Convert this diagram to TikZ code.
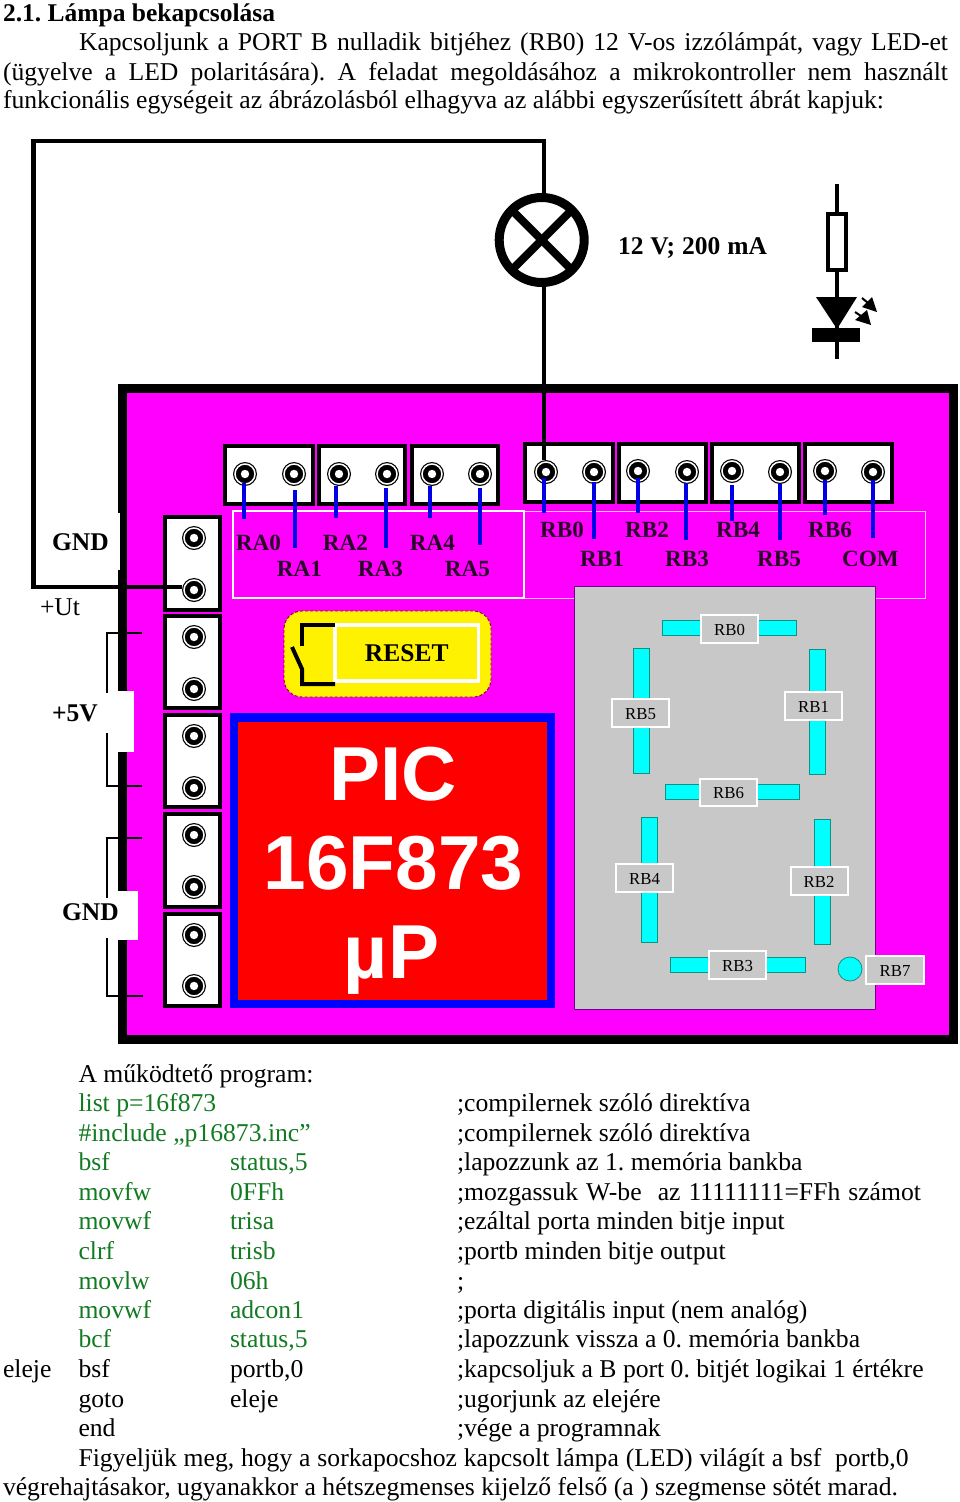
\documentclass[tikz,border=0pt]{standalone}
\usepackage{fontspec}
\setmainfont{Liberation Serif}
\newfontfamily\pichead{Liberation Sans}
\frenchspacing
\definecolor{boardmag}{HTML}{FF00FF}
\definecolor{codegreen}{HTML}{127A22}
\definecolor{pindark}{HTML}{2A002A}
\definecolor{segcyan}{HTML}{00FFFF}
\definecolor{segedge}{HTML}{109080}
\definecolor{panelgrey}{HTML}{C8C8C8}
\definecolor{resetedge}{HTML}{800040}
\definecolor{stubblue}{HTML}{0000E6}
\definecolor{pureblue}{HTML}{0000FF}
\definecolor{purered}{HTML}{FF0000}
\newcommand{\rbox}[7]{\node[#6,minimum width={(#4-(#2))*1pt},minimum height={(#5-(#3))*1pt}] (#1) at ({(#2+#4)/2},{(#3+#5)/2}) {#7};}
\newcommand{\txt}[5][]{\node[plaintext,#1] (#2) at (#3,#4) {#5};}
\newcommand{\ctr}[5][]{\node[plaintext,anchor=base,#1] (#2) at (#3,#4) {#5};}
\newcommand{\pin}[3]{\node[pinhole] (#1) at (#2,#3) {};}
\newcommand{\stub}[4]{\coordinate (#1-end) at (#2,#4); \draw[stubline] ([yshift=-#3pt]#1.center -| #1-end) -- (#1-end);}
\tikzset{
  plaintext/.style={anchor=base west,inner sep=0pt,outer sep=0pt,font=\fontsize{25.65}{29}\selectfont},
  code/.style={text=codegreen},
  boldtext/.style={font=\fontsize{25.5}{29}\selectfont\bfseries},
  pintext/.style={font=\fontsize{23.2}{27}\selectfont\bfseries,text=pindark},
  pichtext/.style={font=\fontsize{76.5}{80}\selectfont\pichead\bfseries,text=white},
  boxbase/.style={rectangle,inner sep=0pt,outer sep=0pt},
  board/.style={boxbase,draw=black,fill=boardmag,line width=9pt},
  block/.style={boxbase,draw=black,fill=white,line width=4pt},
  pale/.style={boxbase,draw=white,line width=2pt},
  paler/.style={boxbase,draw=white!75!boardmag,line width=1pt},
  panel/.style={boxbase,draw=purple!60!blue,fill=panelgrey,line width=.8pt},
  segbar/.style={boxbase,draw=segedge,fill=segcyan,line width=.8pt},
  seglabel/.style={boxbase,draw=white,fill=panelgrey,line width=2pt,text height=13pt,font=\fontsize{16.8}{19}\selectfont},
  notch/.style={boxbase,fill=white},
  resetbody/.style={boxbase,rounded corners=18pt,fill=yellow,draw=resetedge,densely dashed,line width=.9pt},
  resetlabel/.style={boxbase,draw=white,line width=3.5pt,font=\fontsize{25.5}{29}\selectfont\bfseries},
  chip/.style={boxbase,draw=pureblue,fill=purered,line width=8.5pt},
  pinhole/.style={circle,inner sep=0pt,outer sep=0pt,minimum size=24pt,fill=black,
    path picture={\draw[white,line width=1.5pt] (path picture bounding box.center) circle (10pt);
                  \fill[white] (path picture bounding box.center) circle (4.2pt);}},
  wire/.style={draw=black,line width=4.8pt,line join=miter},
  stubline/.style={draw=stubblue,line width=4.5pt},
  bracket/.style={draw=black,line width=1.5pt},
  lampring/.style={circle,draw=black,fill=white,line width=9pt,minimum size=85pt,inner sep=0pt,outer sep=0pt},
  symline/.style={draw=black,line width=4.5pt},
  sw/.style={draw=black,line width=4pt}
}
\begin{document}
\begin{tikzpicture}[x=1pt,y=-1pt]
\useasboundingbox (0,0) rectangle (960,1502);
% header text
\txt[boldtext]{t1}{3}{21}{2.1. Lámpa bekapcsolása}
\txt{t2}{79}{50}{\makebox[869pt][s]{Kapcsoljunk a PORT B nulladik bitjéhez (RB0) 12 V-os izzólámpát, vagy LED-et}}
\txt{t3}{3}{80}{\makebox[945pt][s]{(ügyelve a LED polaritására). A feladat megoldásához a mikrokontroller nem használt}}
\txt{t4}{3}{108}{\makebox[881pt][s]{funkcionális egységeit az ábrázolásból elhagyva az alábbi egyszerűsített ábrát kapjuk:}}
% board
\rbox{boardbody}{122.5}{388.5}{953.5}{1039.5}{board}{}
% notches and side labels
\rbox{n1}{50}{513}{119.5}{570}{notch}{}
\rbox{n2}{40}{691}{134}{752}{notch}{}
\rbox{n3}{50}{891}{138}{940}{notch}{}
\txt[boldtext]{lgnd1}{52}{550}{GND}
\txt{lut}{40}{615}{+Ut}
\txt[boldtext]{l5v}{52}{721}{+5V}
\txt[boldtext]{lgnd2}{62}{920}{GND}
% brackets
\coordinate (b1a) at (142,633); \coordinate (b1b) at (107,633); \coordinate (b1c) at (107,693);
\coordinate (b2a) at (107,733); \coordinate (b2b) at (107,786); \coordinate (b2c) at (142,786);
\coordinate (b3a) at (142,838); \coordinate (b3b) at (107,838); \coordinate (b3c) at (107,898);
\coordinate (b4a) at (107,938); \coordinate (b4b) at (107,996); \coordinate (b4c) at (143,996);
\draw[bracket] (b1a) -- (b1b) -- (b1c);
\draw[bracket] (b2a) -- (b2b) -- (b2c);
\draw[bracket] (b3a) -- (b3b) -- (b3c);
\draw[bracket] (b4a) -- (b4b) -- (b4c);
% pale label frames
\rbox{frameb}{524}{511}{925}{598}{paler}{}
\rbox{framea}{233}{511}{524}{598}{pale}{}
% top blocks
\rbox{ba1}{225}{446}{313}{504}{block}{}
\rbox{ba2}{319}{446}{405}{504}{block}{}
\rbox{ba3}{412}{446}{498}{504}{block}{}
\rbox{bb1}{525}{444}{613}{502}{block}{}
\rbox{bb2}{619}{444}{706}{502}{block}{}
\rbox{bb3}{712}{444}{799}{502}{block}{}
\rbox{bb4}{805}{444}{892}{502}{block}{}
% left blocks
\rbox{bl1}{165}{517}{220}{610}{block}{}
\rbox{bl2}{165}{616}{220}{708}{block}{}
\rbox{bl3}{165}{715}{220}{807}{block}{}
\rbox{bl4}{165}{814}{220}{907}{block}{}
\rbox{bl5}{165}{914}{220}{1006}{block}{}
% pins
\pin{ra0}{245}{474}\pin{ra1}{294}{474}\pin{ra2}{339}{474}\pin{ra3}{387}{474}\pin{ra4}{432}{474}\pin{ra5}{480}{474}
\pin{rb0}{546}{472}\pin{rb1}{594}{472}\pin{rb2}{638}{471}\pin{rb3}{687}{472}\pin{rb4}{732}{471}\pin{rb5}{780}{472}\pin{rb6}{825}{471}\pin{com}{873}{472}
\pin{l1}{194}{538}\pin{l2}{194}{590}\pin{l3}{194}{637}\pin{l4}{194}{689}\pin{l5}{194}{736}\pin{l6}{194}{788}\pin{l7}{194}{835}\pin{l8}{194}{887}\pin{l9}{194}{935}\pin{l10}{194}{986}
% blue stubs
\stub{ra0}{244}{9}{519}\stub{ra1}{295}{16}{548}\stub{ra2}{336}{12}{518}\stub{ra3}{386}{14}{548}\stub{ra4}{430}{12}{518}\stub{ra5}{480}{14}{545}
\stub{rb0}{544}{6}{513}\stub{rb1}{594}{10}{539}\stub{rb2}{638}{7}{513}\stub{rb3}{686}{11}{540}\stub{rb4}{732}{14}{521}\stub{rb5}{780}{12}{540}\stub{rb6}{825}{9}{515}\stub{com}{873}{8}{538}
% pin labels
\ctr[pintext]{lra0}{258.5}{550}{RA0}\ctr[pintext]{lra1}{299.5}{576}{RA1}\ctr[pintext]{lra2}{345.5}{550}{RA2}\ctr[pintext]{lra3}{380.5}{576}{RA3}\ctr[pintext]{lra4}{432.5}{550}{RA4}\ctr[pintext]{lra5}{467.5}{576}{RA5}
\ctr[pintext]{lrb0}{562}{537}{RB0}\ctr[pintext]{lrb1}{602}{566}{RB1}\ctr[pintext]{lrb2}{647}{537}{RB2}\ctr[pintext]{lrb3}{687}{566}{RB3}\ctr[pintext]{lrb4}{738}{537}{RB4}\ctr[pintext]{lrb5}{779}{566}{RB5}\ctr[pintext]{lrb6}{830}{537}{RB6}\ctr[pintext]{lcom}{870.5}{566}{COM}
% reset
\rbox{resetb}{284}{611}{491}{697}{resetbody}{}
\rbox{resetl}{335}{625}{478.5}{681}{resetlabel}{RESET}
\coordinate (s1) at (335,625); \coordinate (s2) at (302,625); \coordinate (s3) at (302,646);
\coordinate (s4) at (292,647); \coordinate (s5) at (302,669); \coordinate (s6) at (302,684); \coordinate (s7) at (335,684);
\draw[sw] (s1) -- (s2) -- (s3);
\draw[sw] (s4) -- (s5) -- (s6) -- (s7);
% chip
\rbox{chipbody}{234}{717.5}{551}{1004}{chip}{}
\ctr[pichtext]{pic1}{393}{800}{PIC}
\ctr[pichtext]{pic2}{393.5}{889}{16F873}
\ctr[pichtext]{pic3}{391.5}{978}{µP}
% seven segment panel
\rbox{panel7}{574}{586}{875}{1009}{panel}{}
\rbox{s0}{662}{620}{796}{635}{segbar}{}
\rbox{s5b}{633}{648}{649}{773}{segbar}{}
\rbox{s1b}{809}{649}{825}{774}{segbar}{}
\rbox{s6b}{665}{784}{799}{799}{segbar}{}
\rbox{s4b}{641}{817}{657}{942}{segbar}{}
\rbox{s2b}{814}{819}{830}{944}{segbar}{}
\rbox{s3b}{670}{957}{805}{972}{segbar}{}
\node[circle,draw=segedge,fill=segcyan,line width=.8pt,minimum size=24pt,inner sep=0pt] (s7b) at (850,969) {};
\rbox{t0}{701}{615}{758}{643}{seglabel}{RB0}
\rbox{t5}{612}{699}{669}{727}{seglabel}{RB5}
\rbox{t1b}{785}{692}{842}{720}{seglabel}{RB1}
\rbox{t6}{700}{779}{757}{806}{seglabel}{RB6}
\rbox{t4b}{616}{864}{673}{892}{seglabel}{RB4}
\rbox{t2b}{790.5}{867}{847.5}{895}{seglabel}{RB2}
\rbox{t3b}{709}{951}{766}{979}{seglabel}{RB3}
\rbox{t7}{866}{956}{924}{984}{seglabel}{RB7}
% lamp
\node[lampring] (lamp) at (541.7,240) {};
\draw[draw=black,line width=8pt,line cap=butt] (lamp.north west) -- (lamp.south east);
\draw[draw=black,line width=8pt,line cap=butt] (lamp.north east) -- (lamp.south west);
\txt[boldtext]{lamplabel}{618}{254}{\makebox[149pt][s]{12 V; 200 mA}}
% wires
\coordinate (wc) at (33.5,587); \coordinate (wd) at (33.5,141); \coordinate (we) at (544,141);
\draw[wire] (l2.west |- wc) -- (wc) -- (wd) -- (we) -- (we |- lamp.north);
\draw[wire] (we |- lamp.south) -- (we |- rb0.north);
% resistor and LED
\coordinate (ledtop) at (837,184); \coordinate (ledbot) at (837,359);
\draw[symline] (ledtop) -- (ledbot);
\rbox{resistor}{828}{214}{846}{270}{block}{}
\fill[black] (816,297) -- (857,297) -- (837,329) -- cycle;
\fill[black] (812,328) rectangle (860,342);
\fill[black] (877,312) -- (862,307) -- (872,297) -- cycle;
\draw[black,line width=2pt] (862,298) -- (868,303);
\fill[black] (871,325) -- (855,320) -- (867,310) -- cycle;
\draw[black,line width=2pt] (855,312) -- (861,316);
% program text
\txt{p0}{78.5}{1082}{A működtető program:}
\txt[code]{p1}{78.5}{1111}{list p=16f873}
\txt[code]{p2}{78.5}{1141}{\#include „p16873.inc”}
\txt[code]{p3}{78.5}{1170}{bsf}\txt[code]{a3}{230}{1170}{status,5}
\txt[code]{p4}{78.5}{1200}{movfw}\txt[code]{a4}{230}{1200}{0FFh}
\txt[code]{p5}{78.5}{1229}{movwf}\txt[code]{a5}{230}{1229}{trisa}
\txt[code]{p6}{78.5}{1259}{clrf}\txt[code]{a6}{230}{1259}{trisb}
\txt[code]{p7}{78.5}{1289}{movlw}\txt[code]{a7}{230}{1289}{06h}
\txt[code]{p8}{78.5}{1318}{movwf}\txt[code]{a8}{230}{1318}{adcon1}
\txt[code]{p9}{78.5}{1347}{bcf}\txt[code]{a9}{230}{1347}{status,5}
\txt{lbl}{3}{1377}{eleje}
\txt{p10}{78.5}{1377}{bsf}\txt{a10}{230}{1377}{portb,0}
\txt{p11}{78.5}{1407}{goto}\txt{a11}{230}{1407}{eleje}
\txt{p12}{78.5}{1436}{end}
\txt{c1}{457}{1111}{;compilernek szóló direktíva}
\txt{c2}{457}{1141}{;compilernek szóló direktíva}
\txt{c3}{457}{1170}{;lapozzunk az 1. memória bankba}
\txt{c4}{457}{1200}{\makebox[464pt][s]{;mozgassuk W-be\ \ az 11111111=FFh számot}}
\txt{c5}{457}{1229}{;ezáltal porta minden bitje input}
\txt{c6}{457}{1259}{;portb minden bitje output}
\txt{c7}{457}{1289}{;}
\txt{c8}{457}{1318}{;porta digitális input (nem analóg)}
\txt{c9}{457}{1347}{;lapozzunk vissza a 0. memória bankba}
\txt{c10}{457}{1377}{;kapcsoljuk a B port 0. bitjét logikai 1 értékre}
\txt{c11}{457}{1407}{;ugorjunk az elejére}
\txt{c12}{457}{1436}{;vége a programnak}
\txt{e1}{78.5}{1466}{\makebox[830pt][s]{Figyeljük meg, hogy a sorkapocshoz kapcsolt lámpa (LED) világít a bsf\ \ portb,0}}
\txt{e2}{3}{1495}{\makebox[895pt][s]{végrehajtásakor, ugyanakkor a hétszegmenses kijelző felső (a ) szegmense sötét marad.}}
\end{tikzpicture}
\end{document}
